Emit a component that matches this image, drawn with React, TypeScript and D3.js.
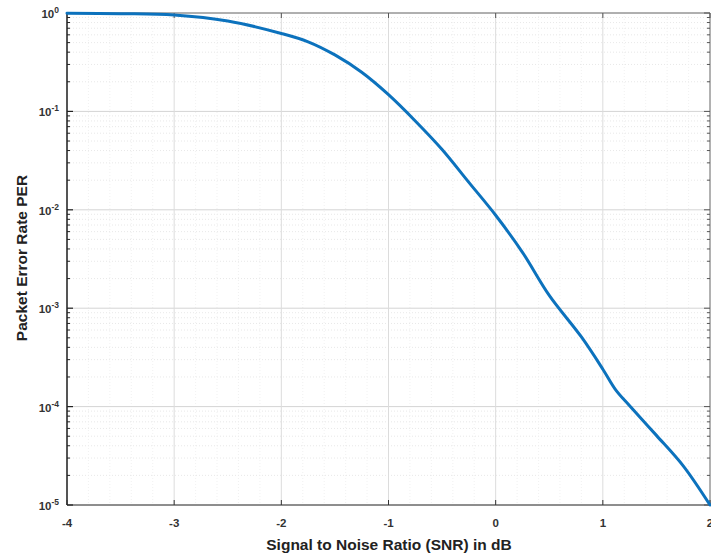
import React from "react";
import * as d3 from "d3";

const snrDb = [-4, -3.5, -3, -2.5, -2, -1.75, -1.5, -1.25, -1, -0.75, -0.5, -0.25, 0, 0.25, 0.5, 0.8, 1.0, 1.12, 1.25, 1.5, 1.75, 2.0];
const per = [0.995, 0.985, 0.955, 0.83, 0.62, 0.51, 0.375, 0.25, 0.148, 0.08, 0.041, 0.019, 0.0088, 0.0037, 0.00135, 0.00051, 0.00024, 0.000148, 0.000102, 0.000051, 0.000025, 0.00001];
const xTicks = [-4, -3, -2, -1, 0, 1, 2];
const yExps = [0, -1, -2, -3, -4, -5];

const W = 711, H = 554;
const M = { left: 67, right: 710, top: 13, bottom: 505 };

export default function App() {
  const x = d3.scaleLinear().domain([-4, 2]).range([M.left, M.right]);
  const y = d3.scaleLog().domain([1e-5, 1]).range([M.bottom, M.top]);
  const line = d3.line<number>().x((_, i) => x(snrDb[i])).y((d) => y(d)).curve(d3.curveCatmullRom.alpha(0.5));

  const minorY: number[] = [];
  for (let e = -5; e < 0; e++) for (let k = 2; k <= 9; k++) minorY.push(k * Math.pow(10, e));
  const minorX: number[] = [];
  for (let v = -4; v < 2; v += 0.2) {
    const r = Math.round(v * 10) / 10;
    if (Math.abs(r - Math.round(r)) > 1e-6) minorX.push(r);
  }

  const font = "'Liberation Sans', Arial, sans-serif";
  return (
    <svg width={W} height={H} style={{ position: "absolute", left: 0, top: 0, background: "#fff" }}>
      <rect x={0} y={0} width={W} height={H} fill="#fff" />
      {minorY.map((v, i) => (
        <line key={"my" + i} x1={M.left} x2={M.right} y1={y(v)} y2={y(v)} stroke="#e2e2e2" strokeWidth={0.8} strokeDasharray="1,2" />
      ))}
      {minorX.map((v, i) => (
        <line key={"mx" + i} x1={x(v)} x2={x(v)} y1={M.top} y2={M.bottom} stroke="#eeeeee" strokeWidth={0.8} strokeDasharray="1,2" />
      ))}
      {yExps.map((e) => (
        <line key={"gy" + e} x1={M.left} x2={M.right} y1={y(Math.pow(10, e))} y2={y(Math.pow(10, e))} stroke="#d4d4d4" strokeWidth={1} />
      ))}
      {xTicks.map((t) => (
        <line key={"gx" + t} x1={x(t)} x2={x(t)} y1={M.top} y2={M.bottom} stroke="#dcdcdc" strokeWidth={1} />
      ))}
      <line x1={M.left} x2={M.right} y1={M.top} y2={M.top} stroke="#777" strokeWidth={1} />
      <line x1={M.right} x2={M.right} y1={M.top} y2={M.bottom} stroke="#777" strokeWidth={1} />
      <line x1={M.left} x2={M.right} y1={M.bottom} y2={M.bottom} stroke="#333" strokeWidth={1.2} />
      <line x1={M.left} x2={M.left} y1={M.top} y2={M.bottom} stroke="#222" strokeWidth={1.5} />
      {xTicks.map((t) => (
        <g key={"tx" + t}>
          <line x1={x(t)} x2={x(t)} y1={M.bottom} y2={M.bottom - 5} stroke="#333" />
          <line x1={x(t)} x2={x(t)} y1={M.top} y2={M.top + 5} stroke="#555" />
          <text x={x(t)} y={527} textAnchor="middle" fontFamily={font} fontWeight="bold" fontSize={11.5} fill="#333">
            {String(t)}
          </text>
        </g>
      ))}
      {yExps.map((e) => (
        <g key={"ty" + e}>
          <line x1={M.left} x2={M.left + 6} y1={y(Math.pow(10, e))} y2={y(Math.pow(10, e))} stroke="#222" strokeWidth={1.2} />
          <line x1={M.right} x2={M.right - 6} y1={y(Math.pow(10, e))} y2={y(Math.pow(10, e))} stroke="#555" />
          <text x={M.left - 8} y={y(Math.pow(10, e)) + 5} textAnchor="end" fontFamily={font} fontWeight="bold" fontSize={11.5} fill="#333">
            10<tspan dy={-5} fontSize={8.5}>{String(e)}</tspan>
          </text>
        </g>
      ))}
      {minorY.map((v, i) => (
        <g key={"mt" + i}>
          <line x1={M.left} x2={M.left + 3} y1={y(v)} y2={y(v)} stroke="#222" />
          <line x1={M.right} x2={M.right - 3} y1={y(v)} y2={y(v)} stroke="#555" />
        </g>
      ))}
      <path d={line(per) || ""} fill="none" stroke="#0c72bd" strokeWidth={3} strokeLinejoin="round" strokeLinecap="round" />
      <text x={389} y={550} textAnchor="middle" fontFamily={font} fontWeight="bold" fontSize={15.5} fill="#222">
        Signal to Noise Ratio (SNR) in dB
      </text>
      <text transform={`translate(27,258) rotate(-90)`} textAnchor="middle" fontFamily={font} fontWeight="bold" fontSize={15.5} fill="#222">
        Packet Error Rate PER
      </text>
    </svg>
  );
}
